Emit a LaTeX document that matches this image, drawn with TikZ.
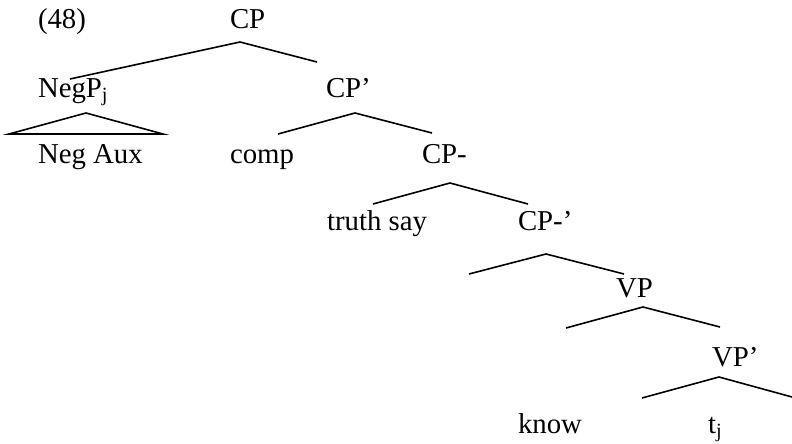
\documentclass[tikz,border=0pt]{standalone}
\usepackage{fontspec}
\setmainfont{Liberation Serif}
\begin{document}
\begin{tikzpicture}[x=1pt,y=-1pt,
  lbl/.style={anchor=base west,inner sep=0pt,outer sep=0pt,font=\fontsize{28.8}{34}\selectfont},
  br/.style={line width=1.6pt,line join=miter}]
\useasboundingbox (0,0) rectangle (792,444);
% labels
\node[lbl] (ex) at (38,29) {(48)};
\node[lbl] (cp) at (230,29) {CP};
\node[lbl] (negp) at (38,97) {NegP\textsubscript{j}};
\node[lbl] (cpbar) at (326,97) {CP’};
\node[lbl] (negaux) at (38,163) {Neg Aux};
\node[lbl] (comp) at (230,163) {comp};
\node[lbl] (cpm) at (422,163) {CP-};
\node[lbl] (truth) at (327,230) {truth say};
\node[lbl] (cpmbar) at (518,230) {CP-’};
\node[lbl] (vp) at (616,297) {VP};
\node[lbl] (vpbar) at (712,366) {VP’};
\node[lbl] (know) at (518,433) {know};
\node[lbl] (tj) at (708,433) {t\textsubscript{j}};
% branch points
\coordinate (a1) at (240,42);  \coordinate (l1) at (70,79);   \coordinate (r1) at (317,62);
\coordinate (a2) at (86,113);  \coordinate (l2) at (9,134);   \coordinate (r2) at (163,134);
\coordinate (a3) at (355,113); \coordinate (l3) at (278,134); \coordinate (r3) at (432,133);
\coordinate (a4) at (450,183); \coordinate (l4) at (373,204); \coordinate (r4) at (528,204);
\coordinate (a5) at (546,254); \coordinate (l5) at (469,274); \coordinate (r5) at (624,274);
\coordinate (a6) at (643,307); \coordinate (l6) at (566,328); \coordinate (r6) at (720,327);
\coordinate (a7) at (719,377); \coordinate (l7) at (642,398); \coordinate (r7) at (792,397);
\draw[br] (l1) -- (a1) -- (r1);
\draw[br] (l2) -- (a2) -- (r2) -- cycle;
\draw[br] (l3) -- (a3) -- (r3);
\draw[br] (l4) -- (a4) -- (r4);
\draw[br] (l5) -- (a5) -- (r5);
\draw[br] (l6) -- (a6) -- (r6);
\draw[br] (l7) -- (a7) -- (r7);
\end{tikzpicture}
\end{document}
